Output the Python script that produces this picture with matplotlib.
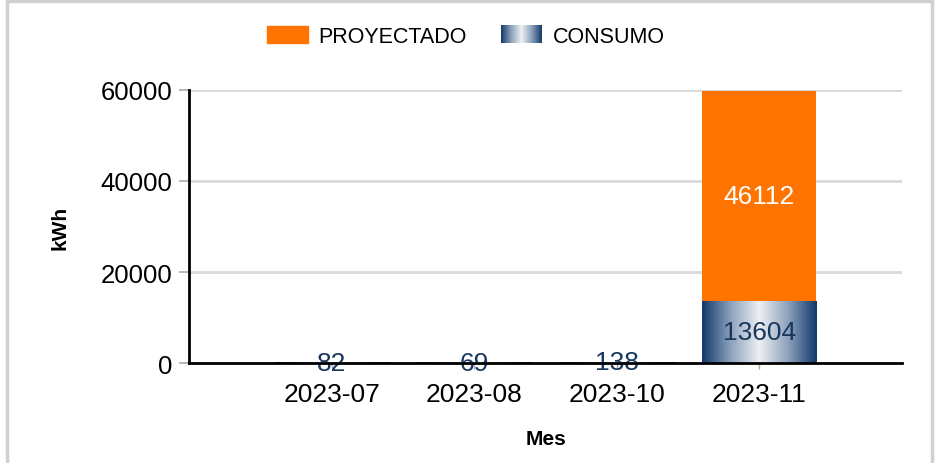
import numpy as np
import matplotlib
matplotlib.use("Agg")
from matplotlib import pyplot as plt
from matplotlib.colors import LinearSegmentedColormap
from matplotlib.legend_handler import HandlerBase
from matplotlib.image import BboxImage
from matplotlib.transforms import Bbox, TransformedBbox
from matplotlib.patches import Rectangle

meses = ["2023-07", "2023-08", "2023-10", "2023-11"]
consumo = [82, 69, 138, 13604]
proyectado = [0, 0, 0, 46112]

NAVY = "#17375e"
ORANGE = "#ff7300"
grad_cmap = LinearSegmentedColormap.from_list(
    "consumo", ["#12396b", "#8da2bc", "#eef0f2", "#8da2bc", "#12396b"])
grad = np.linspace(0, 1, 256).reshape(1, -1)

plt.rcParams["font.family"] = ["Liberation Sans", "DejaVu Sans"]


class GradHandler(HandlerBase):
    def create_artists(self, legend, orig_handle, xdescent, ydescent,
                       width, height, fontsize, trans):
        bb = TransformedBbox(Bbox.from_bounds(-xdescent, -ydescent, width, height), trans)
        img = BboxImage(bb, cmap=grad_cmap, interpolation="bicubic")
        img.set_data(grad)
        return [img]


fig = plt.figure(figsize=(9.37, 4.64), dpi=100)
ax = fig.add_axes([0.2017, 0.2155, 0.761, 0.5884])

x = np.arange(1, len(meses) + 1)
w = 0.8

# consumo: gradient bars
for xi, c in zip(x, consumo):
    ax.imshow(grad, cmap=grad_cmap, aspect="auto", interpolation="bicubic",
              extent=[xi - w / 2, xi + w / 2, 0, c], zorder=2)
ax.bar(x, proyectado, w, bottom=consumo, color=ORANGE, zorder=2)

for xi, c, p in zip(x, consumo, proyectado):
    if c > 2000:
        ax.text(xi, c / 2, str(c), ha="center", va="center", fontsize=19, color=NAVY, zorder=3)
    else:
        ax.text(xi, c, str(c), ha="center", va="center", fontsize=19, color=NAVY, zorder=1)
    if p > 0:
        ax.text(xi, c + p / 2, str(p), ha="center", va="center", fontsize=19, color="white", zorder=3)

ax.set_xlim(0, len(meses) + 1)
ax.set_ylim(0, 60000)
ax.set_yticks([0, 20000, 40000, 60000])
ax.set_xticks(x)
ax.set_xticklabels(meses)
ax.tick_params(axis="y", labelsize=18.5, length=7, width=1.2, color="#aaaaaa", pad=5)
ax.tick_params(axis="x", labelsize=19, length=4, width=1, color="#aaaaaa", pad=10)
ax.yaxis.grid(True, color="#d9d9d9", linewidth=2, zorder=0)
ax.set_axisbelow(True)
for s in ["top", "right"]:
    ax.spines[s].set_visible(False)
for s in ["left", "bottom"]:
    ax.spines[s].set_linewidth(2)
    ax.spines[s].set_zorder(2.5)

ax.set_ylabel("kWh", fontsize=15, fontweight="bold", labelpad=22)
ax.set_xlabel("Mes", fontsize=15, fontweight="bold", labelpad=16)

h1 = Rectangle((0, 0), 1, 1, color=ORANGE)
h2 = Rectangle((0, 0), 1, 1)
fig.legend([h1, h2], ["PROYECTADO", "CONSUMO"], handler_map={h2: GradHandler()},
           loc="center", bbox_to_anchor=(0.497, 0.92), ncol=2, frameon=False,
           fontsize=15.5, handlelength=1.9, handleheight=0.85, columnspacing=1.6,
           handletextpad=0.5)

fig.add_artist(Rectangle((0.008, -0.1), 0.987, 1.095, transform=fig.transFigure,
                         fill=False, edgecolor="#d0d0d0", linewidth=2.5))

fig.savefig("out.png", dpi=100)
